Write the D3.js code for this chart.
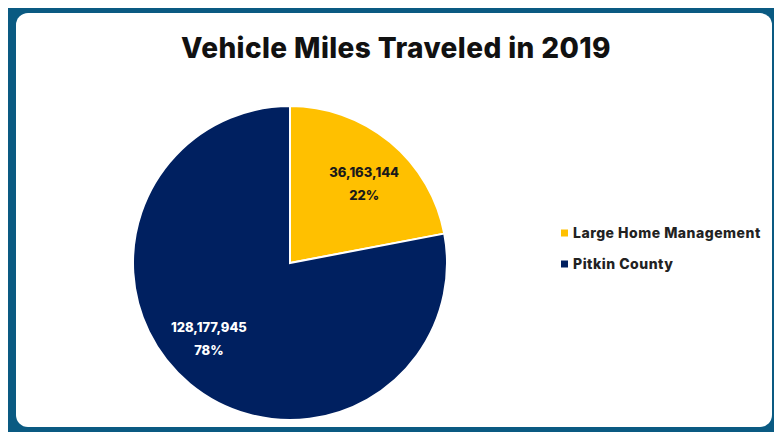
<!DOCTYPE html>
<html>
<head>
<meta charset="utf-8">
<script src="https://cdn.jsdelivr.net/npm/d3@7"></script>
<style>
  body { margin: 0; background: #fff; }
  text { font-family: Inter, "Open Sans", sans-serif; }
</style>
</head>
<body>
<svg id="chart" width="774" height="432"></svg>
<script>
// data
const categories = ["Large Home Management", "Pitkin County"]
const values = [36163144, 128177945]
const colors = ["#FFC000", "#002060"]
const labelColors = ["#1a1a1a", "#ffffff"]
const title = "Vehicle Miles Traveled in 2019"

const layout = {"width": 774, "height": 432, "cx": 290, "cy": 263, "r": 157}
// small nudges so the labels sit where the original ones do
const labelNudge = [[4, 3], [-11, -12]]

const svg = d3.select("#chart")

// outer frame + card
svg.append("rect")
   .attr("x", 8).attr("y", 8)
   .attr("width", layout.width - 8).attr("height", layout.height - 8)
   .attr("fill", "#0A5A82")

svg.append("rect")
   .attr("x", 16).attr("y", 13)
   .attr("width", 756).attr("height", 414)
   .attr("rx", 12).attr("ry", 12)
   .attr("fill", "#ffffff")

svg.append("text")
   .attr("x", 396)
   .attr("y", 58)
   .attr("text-anchor", "middle")
   .style("font-size", "28px")
   .style("font-weight", "800")
   .style("letter-spacing", "0.4px")
   .style("fill", "#111")
   .text(title)

const total = d3.sum(values)
const data = categories.map((c, i) => ({name: c, value: values[i], i: i}))

const pie = d3.pie().sort(null).value(d => d.value)
const arcs = pie(data)

const arc = d3.arc().innerRadius(0).outerRadius(layout.r)
const labelArc = d3.arc().innerRadius(110).outerRadius(110)

const g = svg.append("g")
             .attr("transform", `translate(${layout.cx},${layout.cy})`)

g.selectAll("path")
 .data(arcs)
 .join("path")
 .attr("d", arc)
 .attr("fill", d => colors[d.data.i])
 .attr("stroke", "#fff")
 .attr("stroke-width", 2)

const fmt = d3.format(",")
const pct = d3.format(".0%")

const labels = g.selectAll(".lbl")
  .data(arcs)
  .join("text")
  .attr("class", "lbl")
  .attr("text-anchor", "middle")
  .attr("transform", d => {
    const c = labelArc.centroid(d)
    const n = labelNudge[d.data.i]
    return `translate(${c[0] + n[0]},${c[1] + n[1]})`
  })
  .style("font-size", "13px")
  .style("font-weight", "800")
  .style("fill", d => labelColors[d.data.i])

labels.append("tspan").attr("x", 0).attr("dy", "-0.3em").text(d => fmt(d.data.value))
labels.append("tspan").attr("x", 0).attr("dy", "1.75em").text(d => pct(d.data.value / total))

// legend
const legend = svg.append("g").attr("transform", "translate(561,233)")
const items = legend.selectAll("g")
  .data(data)
  .join("g")
  .attr("transform", (d, i) => `translate(0,${i * 31})`)

items.append("rect")
     .attr("x", 0).attr("y", -3.5)
     .attr("width", 7).attr("height", 7)
     .attr("fill", d => colors[d.i])

items.append("text")
     .attr("x", 12)
     .attr("y", 5)
     .style("font-size", "14px")
     .style("font-weight", "800")
     .style("letter-spacing", "0.5px")
     .style("fill", "#222")
     .text(d => d.name)
</script>
</body>
</html>
